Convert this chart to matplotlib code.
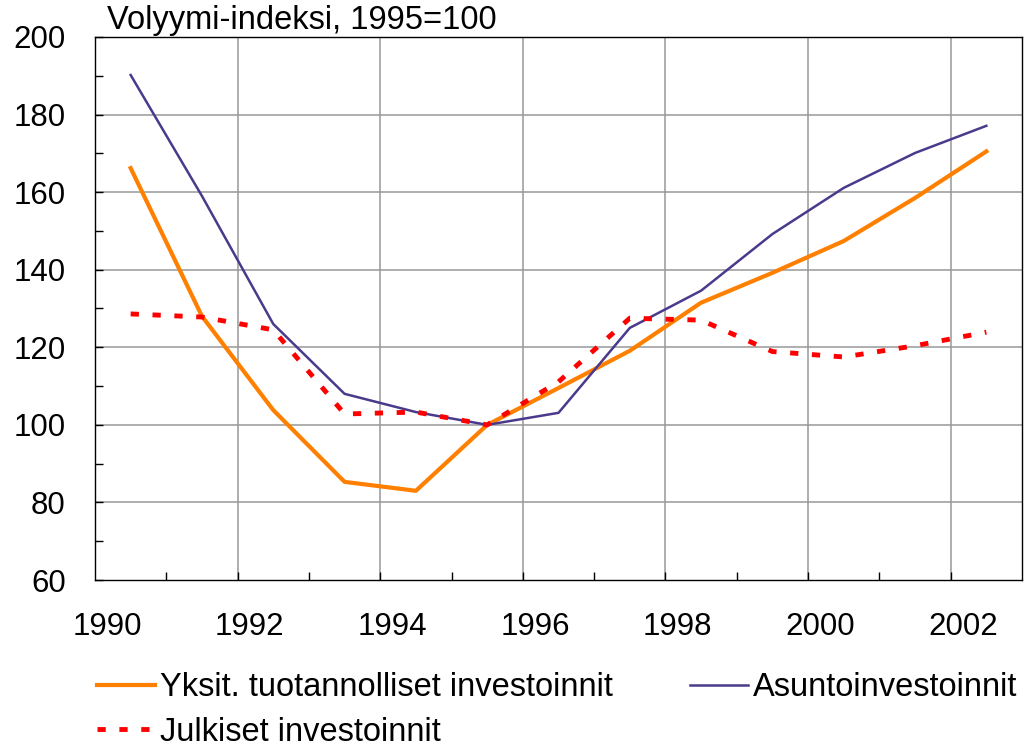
import numpy as np
import matplotlib
matplotlib.use("Agg")
import matplotlib.pyplot as plt

plt.rcParams['font.family'] = ['Liberation Sans', 'DejaVu Sans']

years = [1990, 1991, 1992, 1993, 1994, 1995, 1996, 1997, 1998, 1999, 2000, 2001, 2002]
yksit = [166.2, 128.0, 103.8, 85.3, 83.0, 100.0, 109.5, 119.1, 131.5, 139.2, 147.4, 158.5, 170.5]
asunto = [190.2, 159.0, 126.0, 108.0, 103.3, 100.0, 103.1, 125.0, 134.6, 149.2, 161.1, 170.1, 177.1]
julkiset = [128.6, 127.8, 124.5, 102.8, 103.3, 100.0, 111.1, 127.5, 127.0, 118.9, 117.5, 120.4, 123.9]
year_labels = ['1990', '1992', '1994', '1996', '1998', '2000', '2002']

x = np.arange(len(years))

fig = plt.figure(figsize=(10.31, 7.51), dpi=100)
ax = fig.add_axes([95/1031, 1-580/751, (1022-95)/1031, (580-37)/751])

l1, = ax.plot(x, yksit, color='#FF8000', lw=3.0, label='Yksit. tuotannolliset investoinnit')
l2, = ax.plot(x, asunto, color='#4B3A8C', lw=1.8, label='Asuntoinvestoinnit')
l3, = ax.plot(x, julkiset, color='#FF0000', lw=3.5, dashes=(1.7, 2.8), label='Julkiset investoinnit')

ax.set_xlim(-0.5, len(years) - 0.5)
ax.set_ylim(60, 200)

# category boundaries as ticks, grid on every other one
bounds = np.arange(0.5, len(years) - 0.5, 1.0)
ax.set_xticks(bounds)
ax.set_xticklabels([])
ax.tick_params(axis='x', which='major', direction='in', length=6, width=1)
for b in bounds[1::2]:
    ax.axvline(b, color='#999999', lw=1.1, zorder=0)

lab_pos = [i - 0.33 for i in range(0, len(years), 2)]
ax.set_xticks(lab_pos, minor=True)
ax.set_xticklabels(year_labels, minor=True, fontsize=22.5)
ax.tick_params(axis='x', which='minor', length=0, pad=23)

ax.set_yticks(np.arange(60, 201, 20))
ax.set_yticks(np.arange(70, 200, 20), minor=True)
ax.tick_params(axis='y', which='both', direction='in', length=6, width=1, labelsize=22.5, pad=21)
for v in range(80, 200, 20):
    ax.axhline(v, color='#999999', lw=1.1, zorder=0)

for s in ax.spines.values():
    s.set_color('black')
    s.set_linewidth(1.0)

fig.text(107/1031, 1-20/751, 'Volyymi-indeksi, 1995=100', fontsize=23.5, ha='left', va='center')

fig.legend([l1, l3, l2], [l1.get_label(), l3.get_label(), l2.get_label()],
           ncol=2, loc='upper left', bbox_to_anchor=(97/1031, 1-672/751),
           frameon=False, fontsize=23.5, handlelength=1.78, handletextpad=0.15,
           columnspacing=2.35, labelspacing=0.42, borderpad=0, borderaxespad=0)

fig.savefig('out.png', dpi=100)
